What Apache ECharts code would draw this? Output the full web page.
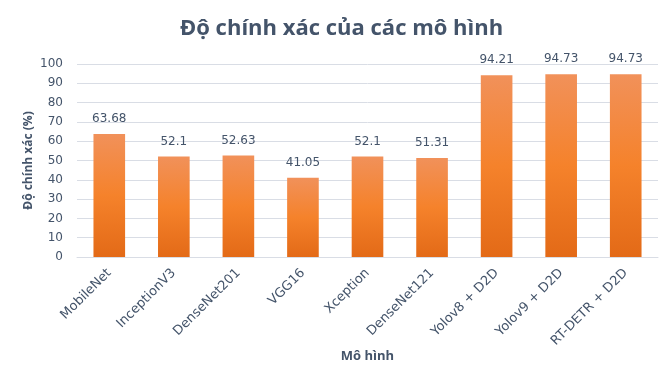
<!DOCTYPE html>
<html>
<head>
<meta charset="utf-8">
<script src="https://cdn.jsdelivr.net/npm/echarts@6/dist/echarts.min.js"></script>
<style>
  html, body { margin: 0; padding: 0; background: #fff; }
  #chart { width: 662px; height: 377px; }
</style>
</head>
<body>
<div id="chart"></div>
<script>
var models = ['MobileNet', 'InceptionV3', 'DenseNet201', 'VGG16', 'Xception',
  'DenseNet121', 'Yolov8 + D2D', 'Yolov9 + D2D', 'RT-DETR + D2D']
var accuracy = [63.68, 52.1, 52.63, 41.05, 52.1, 51.31, 94.21, 94.73, 94.73]
var yTicks = [0, 10, 20, 30, 40, 50, 60, 70, 80, 90, 100]

var textColor = '#44546a'
var myChart = echarts.init(document.getElementById('chart'))

var option = {
  animation: false,
  title: {
    text: 'Độ chính xác của các mô hình',
    left: 175,
    top: 13,
    textStyle: {
      fontFamily: 'Open Sans',
      fontWeight: 'bold',
      fontSize: 22,
      color: textColor
    }
  },
  grid: {
    left: 77,
    right: 4,
    top: 64,
    bottom: 120
  },
  xAxis: {
    type: 'category',
    data: models,
    name: 'Mô hình',
    nameLocation: 'middle',
    nameGap: 93,
    nameMoveOverlap: false,
    nameTextStyle: {
      fontFamily: 'Open Sans',
      fontWeight: 'bold',
      fontSize: 13,
      color: textColor
    },
    axisLine: { lineStyle: { color: '#d9dde5' } },
    axisTick: { show: false },
    axisLabel: {
      rotate: 45,
      interval: 0,
      margin: 14,
      fontFamily: 'DejaVu Sans',
      fontSize: 13,
      color: textColor
    }
  },
  yAxis: {
    type: 'value',
    min: yTicks[0],
    max: yTicks[yTicks.length - 1],
    interval: 10,
    name: 'Độ chính xác (%)',
    nameLocation: 'middle',
    nameGap: 42,
    nameMoveOverlap: false,
    nameTextStyle: {
      fontFamily: 'Open Sans',
      fontWeight: 'bold',
      fontSize: 12,
      color: textColor
    },
    axisLabel: {
      margin: 14,
      fontFamily: 'DejaVu Sans',
      fontSize: 12,
      color: textColor
    },
    splitLine: { lineStyle: { color: '#d9dde5' } }
  },
  series: [{
    type: 'bar',
    data: accuracy,
    barWidth: '49%',
    itemStyle: {
      color: new echarts.graphic.LinearGradient(0, 0, 0, 1, [
        { offset: 0, color: '#f1915a' },
        { offset: 0.5, color: '#f5822b' },
        { offset: 1, color: '#e36a17' }
      ])
    },
    label: {
      show: true,
      position: 'top',
      distance: 9,
      fontFamily: 'DejaVu Sans',
      fontSize: 12,
      color: textColor
    }
  }]
}

myChart.setOption(option, true)
</script>
</body>
</html>
